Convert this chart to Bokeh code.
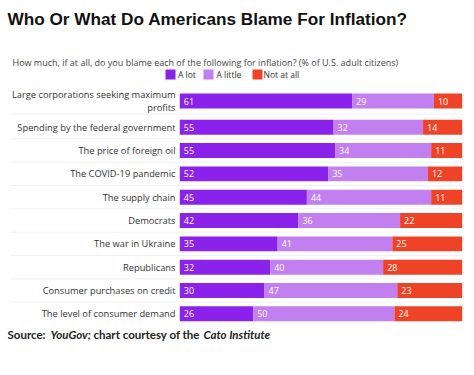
import numpy as np
from bokeh.plotting import figure
from bokeh.models import Range1d, ColumnDataSource
from bokeh.core.properties import value
from bokeh.embed import file_html
from bokeh.resources import INLINE

# ---------------- data ----------------
categories = [
    "Large corporations seeking maximum\nprofits",
    "Spending by the federal government",
    "The price of foreign oil",
    "The COVID-19 pandemic",
    "The supply chain",
    "Democrats",
    "The war in Ukraine",
    "Republicans",
    "Consumer purchases on credit",
    "The level of consumer demand",
]
a_lot = [61, 55, 55, 52, 45, 42, 35, 32, 30, 26]
a_little = [29, 32, 34, 35, 44, 36, 41, 40, 47, 50]
not_at_all = [10, 14, 11, 12, 11, 22, 25, 28, 23, 24]
series_names = ["A lot", "A little", "Not at all"]
series_colors = ["#8a22ec", "#c27ff0", "#ef4328"]

title_text = "Who Or What Do Americans Blame For Inflation?"
subtitle_text = ("How much, if at all, do you blame each of the following for "
                 "inflation? (% of U.S. adult citizens)")
source_parts = [("Source: ", "bold"), ("YouGov;", "bold italic"),
                ("chart courtesy of the", "bold"), ("Cato Institute", "bold italic")]

# ---------------- layout helpers (pixel -> data) ----------------
W, H = 474, 375
X0, XS = 179.3, 2.824      # px of 0 %, px per 1 %
Y0, YS = 103.37, 23.33     # px of row 0, px per row


def dx(px):
    return (px - X0) / XS


def dy(py):
    return (py - Y0) / YS


p = figure(width=W, height=H, output_backend="svg", toolbar_location=None,
           x_range=Range1d(dx(0), dx(W)), y_range=Range1d(dy(H), dy(0)),
           x_axis_location=None, y_axis_location=None, min_border=0)
p.min_border_left = p.min_border_right = p.min_border_top = p.min_border_bottom = 0
p.xgrid.visible = False
p.ygrid.visible = False
p.outline_line_color = None
p.background_fill_color = "white"
p.border_fill_color = "white"

n = len(categories)
ypos = np.arange(n, dtype=float)
ypos[0] -= 0.123  # two-line label needs a little extra room

vals = np.array([a_lot, a_little, not_at_all], dtype=float)
totals = vals.sum(axis=0)
shares = vals / totals * 100.0
lefts = np.vstack([np.zeros(n), np.cumsum(shares, axis=0)[:-1]])
rights = lefts + shares

# separator lines
sep_y = (ypos[:-1] + ypos[1:]) / 2.0
p.segment(x0=[dx(10)] * len(sep_y), x1=[dx(462)] * len(sep_y), y0=sep_y, y1=sep_y,
          line_color="#f0f0f0", line_width=1)

for k in range(3):
    src = ColumnDataSource(dict(y=ypos, left=lefts[k], right=rights[k],
                                lab=[str(int(v)) for v in vals[k]]))
    p.hbar(y="y", left="left", right="right", height=0.64, source=src,
           fill_color=series_colors[k], line_color=None)
    p.text(x="left", y="y", text="lab", source=src, x_offset=4,
           text_font=value("Open Sans"), text_font_size="9px", text_color="white",
           text_baseline="middle", text_align="left")

# category labels
p.text(x=[dx(175)] * n, y=ypos, text=categories, text_font=value("Open Sans"),
       text_font_size="9.3px", text_color="#333333", text_align="right",
       text_baseline="middle", text_line_height=1.0)

# title / subtitle
p.text(x=[dx(7)], y=[dy(18.5)], text=[title_text], text_font=value("Liberation Sans"),
       text_font_style="bold", text_font_size="17.2px", text_color="#111111",
       text_baseline="middle")
p.text(x=[dx(12)], y=[dy(61.5)], text=[subtitle_text], text_font=value("Open Sans"),
       text_font_size="9px", text_color="#444444", text_baseline="middle")

# legend
leg_sq = [170, 208, 257]
leg_tx = [177.5, 216, 263]
p.rect(x=[dx(v) for v in leg_sq], y=[dy(74)] * 3, width=10, height=10,
       width_units="screen", height_units="screen", fill_color=series_colors,
       line_color=None)
p.text(x=[dx(v) for v in leg_tx], y=[dy(74)] * 3, text=series_names,
       text_font=value("Open Sans"), text_font_size="8.5px", text_color="#333333",
       text_baseline="middle")

# source line
src_x = [7, 50, 93, 203]
for (t, style), xp in zip(source_parts, src_x):
    p.text(x=[dx(xp)], y=[dy(333.5)], text=[t], text_font=value("Lato"),
           text_font_style=style, text_font_size="11.5px", text_color="#222222",
           text_baseline="middle")

open("out.html", "w").write(file_html(p, INLINE))
